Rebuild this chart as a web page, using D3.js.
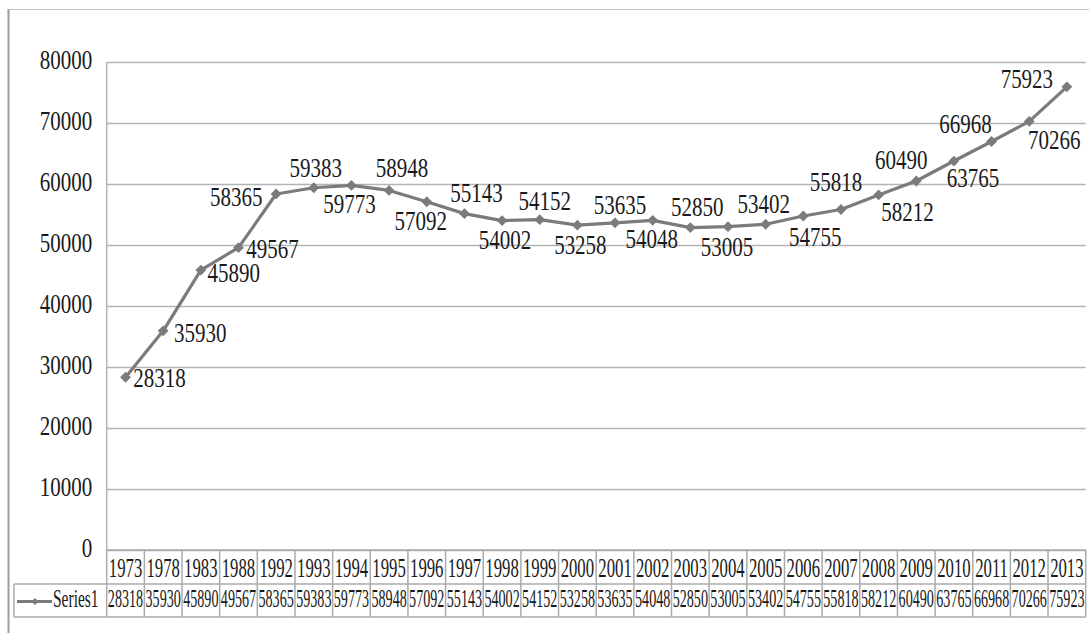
<!DOCTYPE html>
<html>
<head>
<meta charset="utf-8">
<script src="https://cdn.jsdelivr.net/npm/d3@7"></script>
<style>
  body { margin: 0; background: #fff; }
</style>
</head>
<body>
<div id="chart"></div>
<script>
// data
const years = ["1973","1978","1983","1988","1992","1993","1994","1995","1996","1997","1998","1999","2000",
  "2001","2002","2003","2004","2005","2006","2007","2008","2009","2010","2011","2012","2013"];
const values = [28318,35930,45890,49567,58365,59383,59773,58948,57092,55143,54002,54152,53258,
  53635,54048,52850,53005,53402,54755,55818,58212,60490,63765,66968,70266,75923];
const yTicks = [0,10000,20000,30000,40000,50000,60000,70000,80000];
const seriesName = "Series1";

// where each data label sits relative to its point (centre x, baseline y)
const labelOffsets = [[34,10],[37,11],[33,12],[34,10],[-40,12],[2,-11],[-2,28],[13,-13],[-6,28],[12,-12],
  [3,28],[5,-10],[3,29],[5,-9],[-1,28],[7,-12],[-1,29],[-2,-11],[12,30],[-5,-19],[29,26],[-15,-12],
  [19,26],[-26,-8],[25,28],[-40,1]];

const width = 1089, height = 633;
const plot = { left: 106.7, right: 1085.7, top: 62, bottom: 550 };
const rowH = [34, 33];
const gridColor = "#b4b4b4";
const lineColor = "#7b7b7b";
const textColor = "#1a1a1a";
const serif = "'Liberation Serif', 'Times New Roman', Tinos, 'DejaVu Serif', serif";

const svg = d3.select("#chart").append("svg")
  .attr("width", width)
  .attr("height", height);

// outer frame
svg.append("line").attr("x1", 8).attr("x2", width).attr("y1", 9.5).attr("y2", 9.5)
  .attr("stroke", "#c4c4c4").attr("stroke-width", 1.2);
svg.append("line").attr("x1", 8.5).attr("x2", 8.5).attr("y1", 9).attr("y2", height)
  .attr("stroke", "#9c9c9c").attr("stroke-width", 2);

const x = d3.scaleBand().domain(years).range([plot.left, plot.right]).padding(0);
const y = d3.scaleLinear().domain([0, 80000]).range([plot.bottom, plot.top]);

// squeezed serif text, like the narrow glyphs of the original
function label(g, tx, ty, str, size, sx, anchor) {
  return g.append("text")
    .attr("transform", `translate(${tx},${ty}) scale(${sx},1)`)
    .attr("text-anchor", anchor)
    .attr("font-family", serif)
    .attr("font-size", size)
    .attr("fill", textColor)
    .text(str);
}

// y axis + gridlines
const yAxis = svg.append("g")
  .attr("transform", `translate(${plot.left},0)`)
  .call(d3.axisLeft(y).tickValues(yTicks).tickSize(-(plot.right - plot.left)).tickFormat(d3.format("d")));
yAxis.select(".domain").remove();
yAxis.selectAll("line").attr("stroke", gridColor).attr("stroke-width", 1.5);
yAxis.selectAll("text").remove();
yAxis.selectAll(".tick").each(function(d) {
  label(d3.select(this), -14.5, 6.5, d3.format("d")(d), 28, 0.75, "end");
});
svg.append("line")
  .attr("x1", plot.left).attr("x2", plot.left)
  .attr("y1", plot.top).attr("y2", plot.bottom)
  .attr("stroke", gridColor).attr("stroke-width", 1.5);

// data table
const table = svg.append("g");
const r1 = plot.bottom, r2 = plot.bottom + rowH[0], r3 = r2 + rowH[1];
table.append("line").attr("x1", plot.left).attr("x2", plot.right).attr("y1", r1).attr("y2", r1);
table.append("line").attr("x1", 14).attr("x2", plot.right).attr("y1", r2).attr("y2", r2);
table.append("line").attr("x1", 14).attr("x2", plot.right).attr("y1", r3).attr("y2", r3);
table.append("line").attr("x1", 14).attr("x2", 14).attr("y1", r2).attr("y2", r3);
table.selectAll(".vsep")
  .data(years.map(x).concat([plot.right]))
  .join("line")
  .attr("x1", d => d).attr("x2", d => d)
  .attr("y1", r1).attr("y2", r3);
table.selectAll("line").attr("stroke", "#ababab").attr("stroke-width", 1.5);

years.forEach((yr, i) => {
  const cx = x(yr) + x.bandwidth() / 2;
  label(table, cx, r1 + 27, yr, 27, 0.62, "middle");
  label(table, cx, r2 + 23, values[i], 25, 0.565, "middle");
});

// legend key in table
const keyY = r2 + 17.5;
table.append("line").attr("x1", 17).attr("x2", 52).attr("y1", keyY).attr("y2", keyY)
  .attr("stroke", lineColor).attr("stroke-width", 3);
table.append("path")
  .attr("d", `M35,${keyY - 3.5}L38.5,${keyY}L35,${keyY + 3.5}L31.5,${keyY}Z`)
  .attr("fill", lineColor);
label(table, 53, r2 + 23, seriesName, 25, 0.62, "start");

// series line
const pts = years.map((yr, i) => [x(yr) + x.bandwidth() / 2, y(values[i])]);
svg.append("path")
  .datum(pts)
  .attr("d", d3.line())
  .attr("fill", "none")
  .attr("stroke", lineColor)
  .attr("stroke-width", 3.2)
  .attr("stroke-linejoin", "round");

const diamond = 5.4;
svg.append("g").selectAll("path")
  .data(pts)
  .join("path")
  .attr("d", d => `M${d[0]},${d[1] - diamond}L${d[0] + diamond},${d[1]}L${d[0]},${d[1] + diamond}L${d[0] - diamond},${d[1]}Z`)
  .attr("fill", lineColor);

// data labels
const dl = svg.append("g");
pts.forEach((p, i) => {
  label(dl, p[0] + labelOffsets[i][0], p[1] + labelOffsets[i][1], values[i], 28, 0.75, "middle");
});
</script>
</body>
</html>
